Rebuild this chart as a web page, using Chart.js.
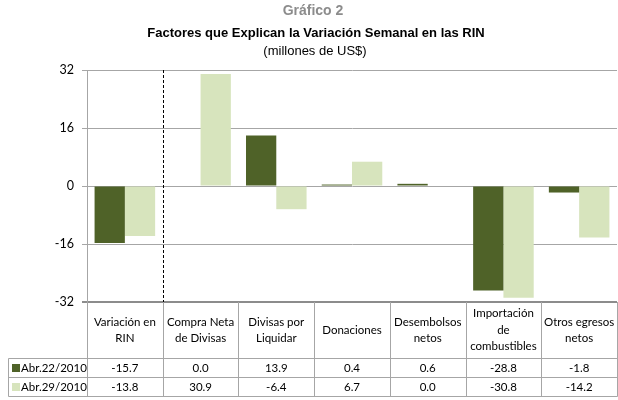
<!DOCTYPE html>
<html>
<head>
<meta charset="utf-8">
<script src="https://cdn.jsdelivr.net/npm/chart.js@4/dist/chart.umd.min.js"></script>
<style>
  html, body { margin: 0; padding: 0; background: #fff; }
  #wrap { width: 618px; height: 400px; position: relative; }
</style>
</head>
<body>
<div id="wrap"><canvas id="chart" width="618" height="400"></canvas></div>
<script>
/* ========= DATA ========= */

const categories = [
    ["Variación en", "RIN"],
    ["Compra Neta", "de Divisas"],
    ["Divisas por", "Liquidar"],
    ["Donaciones"],
    ["Desembolsos", "netos"],
    ["Importación", "de", "combustibles"],
    ["Otros egresos", "netos"]
];

const seriesNames = ["Abr.22/2010", "Abr.29/2010"];
const apr22 = [-15.7, 0.0, 13.9, 0.4, 0.6, -28.8, -1.8];
const apr29 = [-13.8, 30.9, -6.4, 6.7, 0.0, -30.8, -14.2];
const yTicks = [-32, -16, 0, 16, 32];

const colors = ["#4F6228", "#D7E4BD"];

const titleTop = "Gráfico 2";
const titleMain = "Factores que Explican la Variación Semanal en las RIN";
const titleSub = "(millones de US$)";

/* ========= TITLE + DATA TABLE PLUGIN ========= */

const tablePlugin = {
    id: "tablePlugin",
    afterDraw(chart) {
        const ctx = chart.ctx;
        const x = chart.scales.x;
        const area = chart.chartArea;
        const n = categories.length;
        const half = (x.getPixelForValue(1) - x.getPixelForValue(0)) / 2;
        const edges = [];
        for (let i = 0; i <= n; i++) {
            edges.push(Math.round(i < n ? x.getPixelForValue(i) - half : x.getPixelForValue(n - 1) + half) + 0.5);
        }

        ctx.save();

        // titles
        ctx.textAlign = "center";
        ctx.textBaseline = "middle";
        ctx.fillStyle = "#8c8c8c";
        ctx.font = "bold 14px 'Liberation Sans', Arial";
        ctx.fillText(titleTop, 313, 11);
        ctx.fillStyle = "#000";
        ctx.font = "bold 13px 'Liberation Sans', Arial";
        ctx.fillText(titleMain, 316, 33);
        ctx.font = "13px 'Liberation Sans', Arial";
        ctx.fillText(titleSub, 315, 51);

        // dashed separator after first category
        ctx.strokeStyle = "#000";
        ctx.lineWidth = 1;
        ctx.setLineDash([3, 2]);
        ctx.beginPath();
        ctx.moveTo(edges[1], area.top);
        ctx.lineTo(edges[1], area.bottom);
        ctx.stroke();
        ctx.setLineDash([]);

        // table grid
        const top = area.bottom;
        const row1 = 358.5, row2 = 377.5, bottom = 396.5;
        const left = 8.5;
        ctx.strokeStyle = "#a6a6a6";
        ctx.beginPath();
        edges.forEach(e => { ctx.moveTo(e, top); ctx.lineTo(e, bottom); });
        ctx.moveTo(left, row1); ctx.lineTo(left, bottom);
        [row1, row2, bottom].forEach(yy => { ctx.moveTo(left, yy); ctx.lineTo(edges[n], yy); });
        ctx.stroke();

        // header labels
        ctx.fillStyle = "#000";
        ctx.font = "11.5px Lato, 'Open Sans', sans-serif";
        const lineH = 16.5;
        const midH = (top + row1) / 2;
        categories.forEach((lines, i) => {
            const cx = x.getPixelForValue(i);
            const start = midH - (lines.length - 1) * lineH / 2;
            lines.forEach((t, k) => ctx.fillText(t, cx, start + k * lineH));
        });

        // values
        const rows = [apr22, apr29];
        const rowMid = [(row1 + row2) / 2, (row2 + bottom) / 2];
        rows.forEach((vals, r) => {
            vals.forEach((v, i) => {
                ctx.fillText(v.toFixed(1), x.getPixelForValue(i), rowMid[r] + 0.5);
            });
            // legend cell
            ctx.fillStyle = colors[r];
            ctx.fillRect(12, rowMid[r] - 4, 8, 8);
            ctx.fillStyle = "#000";
            ctx.textAlign = "left";
            ctx.fillText(seriesNames[r], 21, rowMid[r] + 0.5);
            ctx.textAlign = "center";
        });

        ctx.restore();
    }
};

/* ========= CHART ========= */

new Chart(document.getElementById("chart"), {
    type: "bar",
    data: {
        labels: categories.map(c => c.join(" ")),
        datasets: [
            { label: seriesNames[0], data: apr22, backgroundColor: colors[0] },
            { label: seriesNames[1], data: apr29, backgroundColor: colors[1] }
        ]
    },
    options: {
        responsive: false,
        animation: false,
        devicePixelRatio: 1,
        categoryPercentage: 0.8,
        barPercentage: 1.0,
        layout: { padding: { top: 70, bottom: 98, left: 0, right: 1 } },
        plugins: {
            legend: { display: false },
            tooltip: { enabled: false },
            title: { display: false }
        },
        scales: {
            x: {
                grid: { display: false },
                border: { display: false },
                ticks: { display: false },
                afterFit(scale) { scale.height = 0; }
            },
            y: {
                min: yTicks[0],
                max: yTicks[yTicks.length - 1],
                afterBuildTicks(scale) { scale.ticks = yTicks.map(v => ({ value: v })); },
                afterFit(scale) { scale.width = 87; },
                border: { color: "#a6a6a6" },
                grid: {
                    color: c => c.tick && c.tick.value === yTicks[0] ? "#8c8c8c" : "#a6a6a6",
                    lineWidth: c => c.tick && c.tick.value === yTicks[0] ? 2 : 1,
                    tickLength: 5
                },
                ticks: {
                    color: "#000",
                    padding: 8,
                    font: { family: "Lato, 'Open Sans', sans-serif", size: 12.5 }
                }
            }
        }
    },
    plugins: [tablePlugin]
});
</script>
</body>
</html>
